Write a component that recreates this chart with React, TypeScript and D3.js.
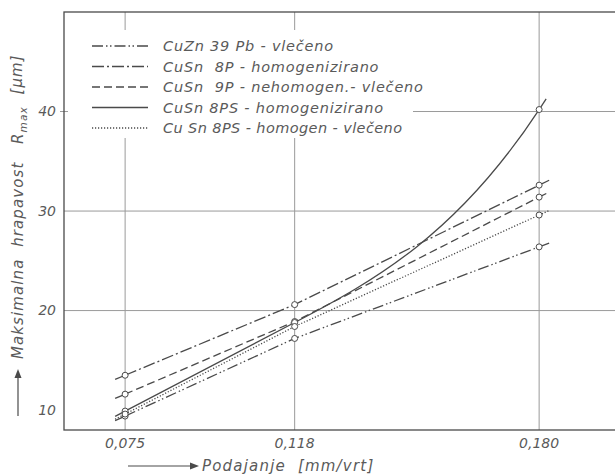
import React from 'react'
import * as d3 from 'd3'

// feed rates (mm/vrt) and Rmax values
const feeds = [0.075, 0.118, 0.180]
const feedLabels = ['0,075', '0,118', '0,180']
const yTicks = [10, 20, 30, 40]
const yGrid = [20, 30, 40]

const names = [
    'CuZn 39 Pb - vlečeno',
    'CuSn  8P - homogenizirano',
    'CuSn  9P - nehomogen.- vlečeno',
    'CuSn 8PS - homogenizirano',
    'Cu Sn 8PS - homogen - vlečeno',
]
const cuZn39Pb = [9.4, 17.2, 26.4]
const cuSn8P = [13.5, 20.6, 32.6]
const cuSn9P = [11.6, 18.9, 31.4]
const cuSn8PS = [9.9, 18.8, 40.2]
const cuSn8PSvl = [9.6, 18.4, 29.6]
const seriesValues = [cuZn39Pb, cuSn8P, cuSn9P, cuSn8PS, cuSn8PSvl]
const dashes = ['11 3 1.5 2.5 1.5 3', '12 3 2 3', '8 4', null, '1.2 1.8']
const curved = [false, false, false, true, false]

const ink = '#4a4a4a'
const grid = '#9a9a9a'
const txt = '#5a5a5a'
const font = 'DejaVu Sans'

const W = 615
const H = 476

// the 8PS curve: straight up to the middle point, then bends up (hermite -> bezier)
function bentPath(pts) {
    const [p0, p1, p2] = pts
    const s0 = (p1[1] - p0[1]) / (p1[0] - p0[0])
    const s1 = (p2[1] - p1[1]) / (p2[0] - p1[0])
    const m1 = s0
    const m2 = 1.75 * s1
    const h = p2[0] - p1[0]
    const c1 = [p1[0] + h / 3, p1[1] + (h / 3) * m1]
    const c2 = [p2[0] - h / 3, p2[1] - (h / 3) * m2]
    const path = d3.path()
    path.moveTo(p0[0], p0[1])
    path.lineTo(p1[0], p1[1])
    path.bezierCurveTo(c1[0], c1[1], c2[0], c2[1], p2[0], p2[1])
    return { d: path.toString(), m0: s0, m1: m2 }
}

export default function App() {
    const x = d3.scaleLinear().domain([0.0595, 0.2]).range([64, 618])
    const y = d3.scaleLinear().domain([8, 50]).range([430, 12])

    const stub = 10

    return (
        <svg width={W} height={H} style={{ position: 'absolute', left: 0, top: 0, background: '#fff' }}>
            <rect width={W} height={H} fill="#fff" />

            {/* grid */}
            {feeds.map((f, i) => (
                <line key={'vg' + i} x1={x(f)} x2={x(f)} y1={y(50)} y2={y(8)} stroke={grid} strokeWidth={1} />
            ))}
            {yGrid.map((v, i) => (
                <line key={'hg' + i} x1={x(0.0595)} x2={x(0.2)} y1={y(v)} y2={y(v)} stroke={grid} strokeWidth={1} />
            ))}
            <line x1={60} x2={64} y1={y(40)} y2={y(40)} stroke={grid} />

            {/* frame */}
            <rect x={x(0.0595)} y={y(50)} width={x(0.2) - x(0.0595)} height={y(8) - y(50)}
                fill="none" stroke={ink} strokeWidth={1.3} />

            {/* series */}
            {seriesValues.map((vals, si) => {
                const pts = vals.map((v, i) => [x(feeds[i]), y(v)])
                let d, m0, m1
                if (curved[si]) {
                    const b = bentPath(pts)
                    d = b.d
                    m0 = b.m0
                    m1 = b.m1
                } else {
                    d = d3.line()(pts)
                    m0 = (pts[1][1] - pts[0][1]) / (pts[1][0] - pts[0][0])
                    m1 = (pts[2][1] - pts[1][1]) / (pts[2][0] - pts[1][0])
                }
                const start = [pts[0][0] - stub, pts[0][1] - stub * m0]
                const endLen = curved[si] ? 7 : stub
                const end = [pts[2][0] + endLen, pts[2][1] + endLen * m1]
                return (
                    <g key={'s' + si}>
                        <path d={d} fill="none" stroke={ink} strokeWidth={1.3}
                            strokeDasharray={dashes[si] || undefined} />
                        <line x1={start[0]} y1={start[1]} x2={pts[0][0]} y2={pts[0][1]} stroke={ink}
                            strokeWidth={1.3} strokeDasharray={dashes[si] || undefined} />
                        <line x1={pts[2][0]} y1={pts[2][1]} x2={end[0]} y2={end[1]} stroke={ink}
                            strokeWidth={1.3} strokeDasharray={dashes[si] || undefined} />
                        {pts.map((p, i) => (
                            <circle key={i} cx={p[0]} cy={p[1]} r={3} fill="#fff" stroke={ink} strokeWidth={1} />
                        ))}
                    </g>
                )
            })}

            {/* legend */}
            <rect x={68} y={30} width={345} height={108} fill="#fff" />
            {names.map((n, i) => {
                const ly = 46 + i * 20.5
                return (
                    <g key={'l' + i}>
                        <line x1={92} x2={148} y1={ly} y2={ly} stroke={ink} strokeWidth={1.3}
                            strokeDasharray={dashes[i] || undefined} />
                        <text x={163} y={ly} dy="0.35em" fontFamily={font} fontStyle="italic" fontSize={14.5}
                            letterSpacing={i === 4 ? 0.4 : 0.8} fill={txt} style={{ whiteSpace: 'pre' }}>{n}</text>
                    </g>
                )
            })}

            {/* y tick labels */}
            {yTicks.map((v, i) => (
                <text key={'yt' + i} x={56} y={y(v)} dy="0.35em" textAnchor="end" fontFamily={font}
                    fontStyle="italic" fontSize={14} fill={txt}>{v}</text>
            ))}

            {/* x tick labels */}
            {feeds.map((f, i) => (
                <text key={'xt' + i} x={x(f)} y={448} textAnchor="middle" fontFamily={font}
                    fontStyle="italic" fontSize={14} fill={txt}>{feedLabels[i]}</text>
            ))}

            {/* x title */}
            <line x1={128} x2={192} y1={466} y2={466} stroke={ink} strokeWidth={1.2} />
            <path d="M190,462.5 L199,466 L190,469.5 Z" fill={ink} />
            <text x={202} y={466} dy="0.35em" fontFamily={font} fontStyle="italic" fontSize={15}
                letterSpacing={1.2} fill={txt} style={{ whiteSpace: 'pre' }}>Podajanje  [mm/vrt]</text>

            {/* y title */}
            <line x1={18} x2={18} y1={416} y2={376} stroke={ink} strokeWidth={1.2} />
            <path d="M14.5,378 L18,369 L21.5,378 Z" fill={ink} />
            <text transform="translate(18,359) rotate(-90)" dy="0.35em" fontFamily={font} fontStyle="italic"
                fontSize={15} letterSpacing={1.1} fill={txt} style={{ whiteSpace: 'pre' }}>
                {'Maksimalna  hrapavost   R'}
                <tspan fontSize={10.5} dy="0.35em">max</tspan>
                <tspan dy="-0.35em">{'  [μm]'}</tspan>
            </text>
        </svg>
    )
}
